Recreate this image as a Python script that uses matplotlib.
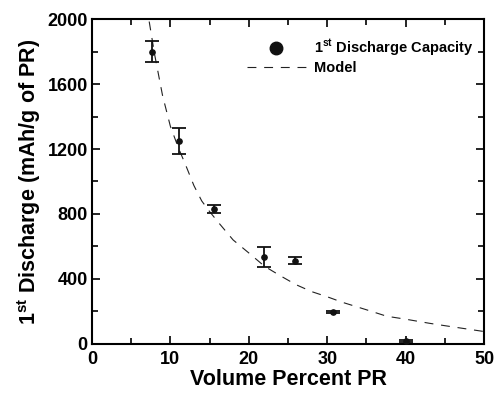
import matplotlib
matplotlib.use('Agg')
import matplotlib.pyplot as plt
from matplotlib.ticker import MultipleLocator

plt.rcParams['font.family'] = ['Liberation Sans', 'DejaVu Sans']
plt.rcParams['font.weight'] = 'bold'
plt.rcParams['mathtext.fontset'] = 'custom'
plt.rcParams['mathtext.rm'] = 'Liberation Sans:bold'
plt.rcParams['mathtext.bf'] = 'Liberation Sans:bold'

# measured first discharge capacity
vol_pct = [7.6, 11.05, 15.6, 22.0, 25.9, 30.8, 40.1]
capacity = [1799, 1251, 831, 537, 513, 199, 16]
cap_err = [66, 80, 25, 62, 20, 6, 6]

# model curve
model_x = [7.3, 8, 9, 10, 11, 12, 13, 14, 15, 16, 18, 20, 22, 24, 26, 28, 30,
           32, 35, 37.6, 40, 43, 45, 50]
model_y = [1985, 1780, 1530, 1340, 1210, 1095, 975, 880, 815, 755, 640, 560,
           478, 420, 365, 322, 290, 255, 210, 170, 152, 127, 112, 76]

fig, ax = plt.subplots(figsize=(4.97, 3.98), dpi=100)
fig.subplots_adjust(left=0.185, right=0.974, bottom=0.136, top=0.952)

ax.plot(model_x, model_y, color='#222222', linestyle=(0, (8, 7)), linewidth=0.8,
        label='Model', zorder=2)
ax.errorbar(vol_pct, capacity, yerr=cap_err, fmt='o', color='#111111',
            markersize=3.8, elinewidth=1.3, capsize=5, capthick=1.3, zorder=3)
# legend proxy with a bigger dot
ax.plot([], [], 'o', color='#111111', markersize=9,
        label=r'1$^{\mathrm{st}}$ Discharge Capacity')

h, l = ax.get_legend_handles_labels()
ax.legend(h[::-1], l[::-1], loc='upper right', frameon=False, fontsize=10.5,
          handlelength=4.0, handletextpad=0.6, bbox_to_anchor=(1.0, 0.975),
          borderaxespad=0.3, labelspacing=0.15)

ax.set_xlim(0, 50)
ax.set_ylim(0, 2000)
ax.xaxis.set_major_locator(MultipleLocator(10))
ax.xaxis.set_minor_locator(MultipleLocator(5))
ax.yaxis.set_major_locator(MultipleLocator(400))
ax.yaxis.set_minor_locator(MultipleLocator(200))
ax.tick_params(which='both', direction='in', top=True, right=True,
               labelsize=13, width=1.2)
ax.tick_params(axis='x', pad=5)
ax.tick_params(axis='y', pad=3)
ax.tick_params(which='major', length=6)
ax.tick_params(which='minor', length=4)
for lbl in ax.get_xticklabels() + ax.get_yticklabels():
    lbl.set_fontweight('bold')
for s in ax.spines.values():
    s.set_linewidth(1.5)

ax.set_xlabel('Volume Percent PR', fontsize=15.5, fontweight='bold', labelpad=1)
ax.set_ylabel(r'1$^{\mathrm{st}}$ Discharge (mAh/g of PR)', fontsize=15.5,
              fontweight='bold', labelpad=3)

fig.savefig('out.png', dpi=100)
